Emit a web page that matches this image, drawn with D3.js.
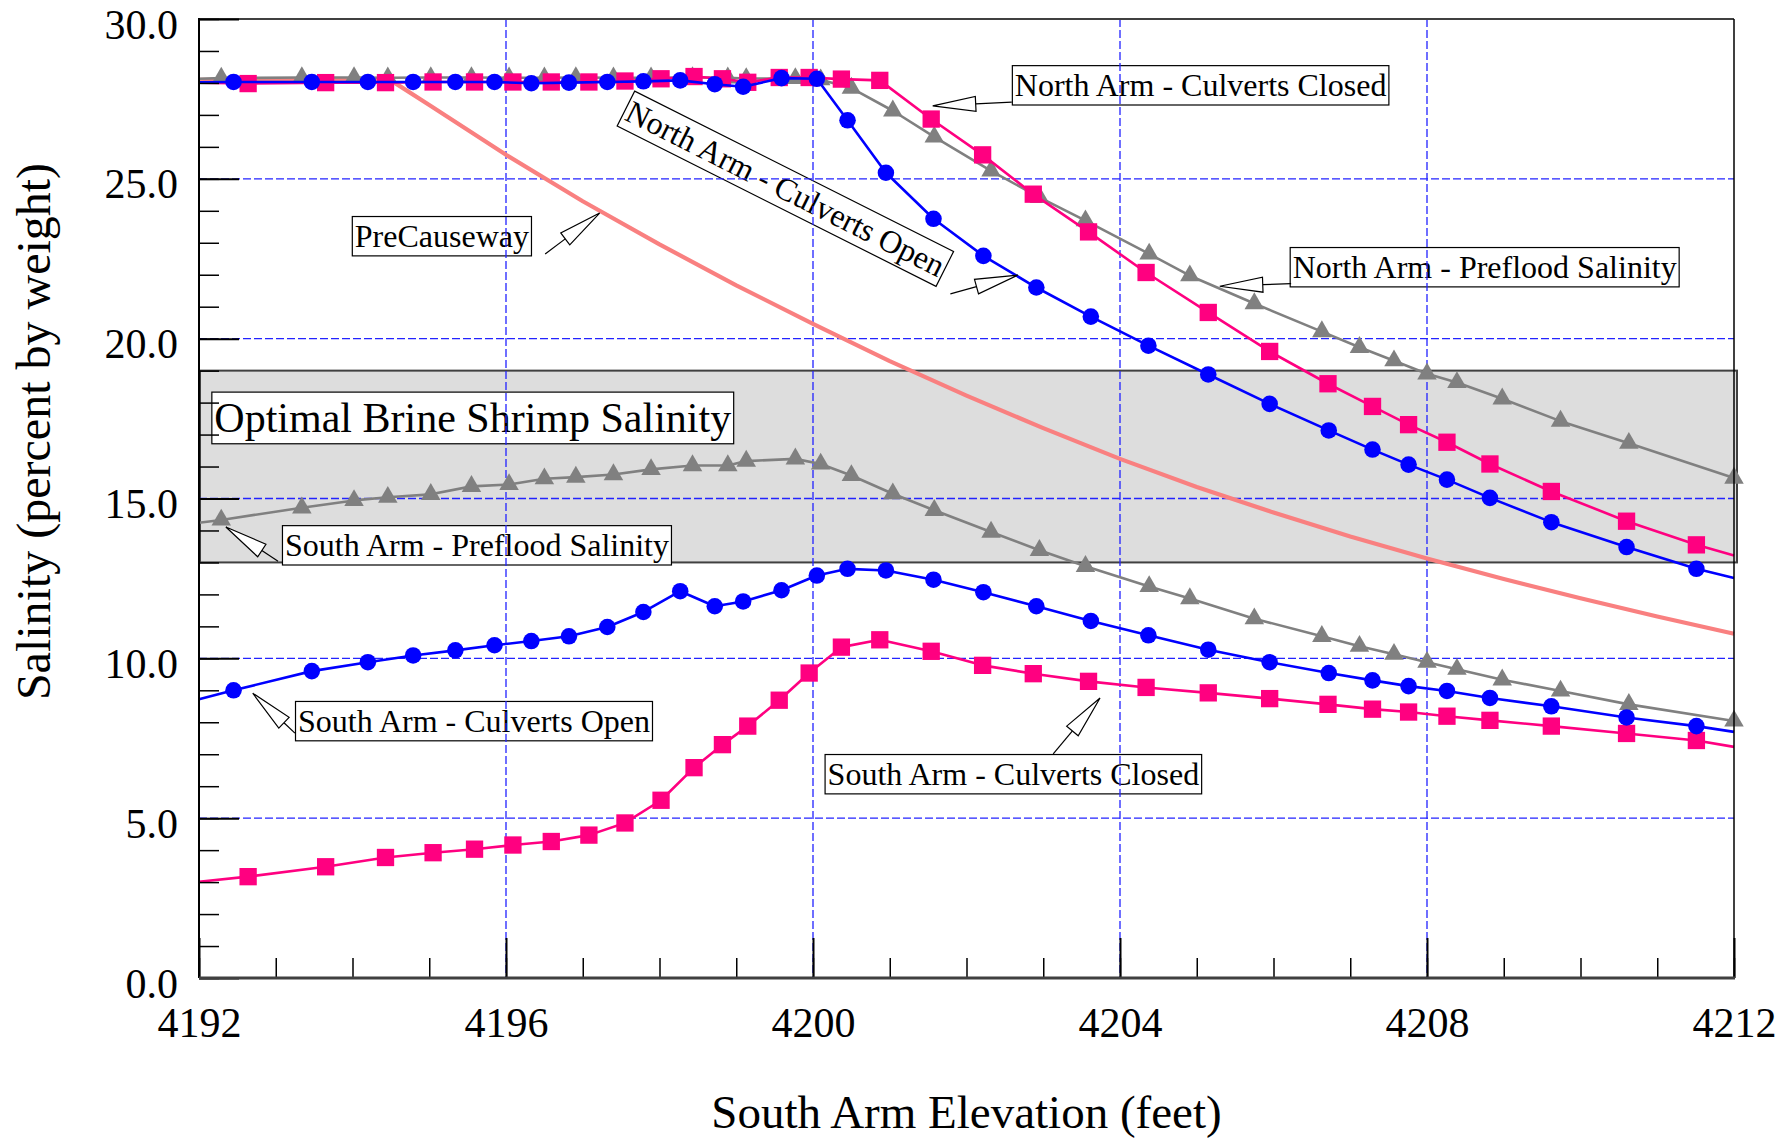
<!DOCTYPE html>
<html><head><meta charset="utf-8">
<script src="https://cdn.jsdelivr.net/npm/d3@7"></script>
<style>
html,body{margin:0;padding:0;background:#fff;}
svg{display:block;}
text{font-family:"Liberation Serif","Times New Roman",Times,serif;fill:#000;}
</style></head><body>
<svg id="chart" width="1781" height="1140"></svg>
<script>
// ---------------- DATA ----------------
const xTickValues = [4192, 4196, 4200, 4204, 4208, 4212];
const xTickLabels = ["4192", "4196", "4200", "4204", "4208", "4212"];
const yTickValues = [0, 5, 10, 15, 20, 25, 30];
const yTickLabels = ["0.0", "5.0", "10.0", "15.0", "20.0", "25.0", "30.0"];
const xTitle = "South Arm Elevation (feet)";
const yTitle = "Salinity (percent by weight)";
const optimalRange = [13, 19];

// Preflood (gray triangles) – shared elevations
const prefloodElev = [4192, 4192.29, 4193.34, 4194.02, 4194.46, 4195.02, 4195.55, 4196.04, 4196.50, 4196.91,
  4197.40, 4197.89, 4198.43, 4198.89, 4199.13, 4199.77, 4200.10, 4200.50, 4201.04, 4201.58,
  4202.32, 4202.95, 4203.55, 4204.38, 4204.91, 4205.75, 4206.63, 4207.12, 4207.57, 4208.00,
  4208.39, 4208.98, 4209.74, 4210.63, 4212.00];
const northPreflood = [28.13, 28.15, 28.17, 28.17, 28.16, 28.17, 28.17, 28.16, 28.16, 28.17,
  28.16, 28.16, 28.17, 28.16, 28.14, 28.14, 28.10, 27.84, 27.13, 26.31,
  25.25, 24.42, 23.69, 22.65, 21.97, 21.10, 20.22, 19.73, 19.31, 18.90,
  18.63, 18.12, 17.42, 16.73, 15.64];
const southPreflood = [14.24, 14.33, 14.71, 14.94, 15.04, 15.13, 15.38, 15.44, 15.62, 15.67,
  15.75, 15.91, 16.03, 16.03, 16.17, 16.24, 16.08, 15.72, 15.15, 14.63,
  13.95, 13.38, 12.88, 12.25, 11.87, 11.24, 10.69, 10.38, 10.13, 9.88,
  9.66, 9.33, 8.98, 8.56, 8.04];

// Culverts open (blue circles)
const openElev = [4192, 4192.45, 4193.47, 4194.20, 4194.79, 4195.34, 4195.85, 4196.33, 4196.82, 4197.32,
  4197.79, 4198.27, 4198.72, 4199.09, 4199.59, 4200.05, 4200.45, 4200.95, 4201.57, 4202.22,
  4202.91, 4203.62, 4204.37, 4205.15, 4205.95, 4206.72, 4207.29, 4207.76, 4208.26, 4208.82,
  4209.62, 4210.60, 4211.51, 4212];
const northOpen = [28.02, 28.03, 28.03, 28.03, 28.03, 28.03, 28.03, 27.99, 28.01, 28.03,
  28.05, 28.08, 27.96, 27.88, 28.15, 28.13, 26.83, 25.19, 23.75, 22.59,
  21.60, 20.69, 19.78, 18.88, 17.96, 17.13, 16.53, 16.06, 15.59, 15.02,
  14.26, 13.48, 12.80, 12.51];
const southOpen = [8.72, 9.00, 9.60, 9.88, 10.09, 10.25, 10.41, 10.54, 10.69, 10.98,
  11.45, 12.10, 11.63, 11.78, 12.13, 12.59, 12.80, 12.75, 12.46, 12.07,
  11.63, 11.17, 10.72, 10.27, 9.88, 9.54, 9.31, 9.13, 8.98, 8.76,
  8.50, 8.15, 7.88, 7.70];

// Culverts closed (pink squares)
const closedElev = [4192, 4192.64, 4193.65, 4194.43, 4195.05, 4195.59, 4196.09, 4196.59, 4197.08, 4197.55,
  4198.02, 4198.45, 4198.82, 4199.15, 4199.56, 4199.95, 4200.37, 4200.87, 4201.54, 4202.21,
  4202.87, 4203.59, 4204.34, 4205.15, 4205.95, 4206.71, 4207.29, 4207.76, 4208.26, 4208.82,
  4209.62, 4210.60, 4211.51, 4212];
const northClosed = [28.01, 27.98, 28.01, 28.01, 28.03, 28.03, 28.03, 28.03, 28.03, 28.06,
  28.13, 28.20, 28.13, 28.02, 28.17, 28.17, 28.12, 28.08, 26.87, 25.75,
  24.52, 23.34, 22.07, 20.82, 19.60, 18.59, 17.88, 17.31, 16.76, 16.08,
  15.22, 14.29, 13.55, 13.22];
const southClosed = [3.01, 3.17, 3.48, 3.77, 3.92, 4.03, 4.16, 4.27, 4.47, 4.85,
  5.56, 6.58, 7.30, 7.88, 8.69, 9.54, 10.35, 10.58, 10.22, 9.78,
  9.52, 9.28, 9.09, 8.92, 8.74, 8.56, 8.41, 8.32, 8.19, 8.06,
  7.88, 7.65, 7.43, 7.23];

// PreCauseway (salmon curve)
const preCausewayElev = [4192, 4193, 4194, 4194.5, 4195, 4196, 4197, 4198, 4199, 4200,
  4201, 4202, 4203, 4204, 4205, 4206, 4207, 4208, 4209, 4210, 4211, 4212];
const preCauseway = [28.10, 28.10, 28.10, 28.08, 27.31, 25.75, 24.30, 22.95, 21.67, 20.46,
  19.30, 18.22, 17.20, 16.24, 15.36, 14.56, 13.81, 13.12, 12.48, 11.88, 11.31, 10.77];

// Annotation texts
const labelTexts = ["PreCauseway", "North Arm - Culverts Closed", "North Arm - Preflood Salinity",
  "Optimal Brine Shrimp Salinity", "South Arm - Preflood Salinity", "South Arm - Culverts Open",
  "South Arm - Culverts Closed"];
const rotatedLabelText = "North Arm - Culverts Open";

// ---------------- LAYOUT ----------------
const plot = {left: 199, right: 1734, top: 19, bottom: 978};
const x = d3.scaleLinear().domain([4192, 4212]).range([plot.left, plot.right]);
const y = d3.scaleLinear().domain([0, 30]).range([plot.bottom, plot.top]);

// label anchors (text start x, baseline y) in data units, font sizes
const labelLayout = [
  {at: [4194.03, 22.87], size: 32},
  {at: [4202.63, 27.59], size: 32},
  {at: [4206.25, 21.90], size: 32},
  {at: [4192.20, 17.08], size: 42},
  {at: [4193.12, 13.20], size: 32},
  {at: [4193.29, 7.70], size: 32},
  {at: [4200.19, 6.04], size: 32}
];
const rotatedLayout = {center: [4199.64, 24.69], angle: 26.7, size: 32};
// callout arrows: tail (at label) -> tip
const arrowLayout = [
  {tail: [4196.51, 22.65], tip: [4197.22, 23.93]},
  {tail: [4202.59, 27.40], tip: [4201.56, 27.28]},
  {tail: [4206.23, 21.72], tip: [4205.30, 21.64]},
  {tail: [4193.03, 13.04], tip: [4192.35, 14.11]},
  {tail: [4193.25, 7.66], tip: [4192.70, 8.91]},
  {tail: [4203.13, 7.01], tip: [4203.74, 8.76]},
  {tail: [4201.79, 21.40], tip: [4202.67, 21.99]}
];

const svg = d3.select("#chart");
svg.append("rect").attr("width", 1781).attr("height", 1140).attr("fill", "#fff");

// Optimal salinity band
svg.append("rect")
  .attr("x", plot.left + 1).attr("width", plot.right - plot.left + 2)
  .attr("y", y(optimalRange[1])).attr("height", y(optimalRange[0]) - y(optimalRange[1]))
  .attr("fill", "#dddddd").attr("stroke", "#404040").attr("stroke-width", 2);

// Labels (under grid)
const gLabels = svg.append("g");
labelTexts.forEach((t, i) => {
  const L = labelLayout[i];
  const g = gLabels.append("g");
  const tx = x(L.at[0]), ty = y(L.at[1]);
  const rect = g.append("rect");
  const txt = g.append("text").attr("x", tx).attr("y", ty).style("font-size", L.size + "px").text(t);
  const w = txt.node().getComputedTextLength();
  rect.attr("x", tx - 2.5).attr("y", ty - 0.95 * L.size).attr("width", w + 5)
    .attr("height", 1.23 * L.size).attr("fill", "#fff").attr("stroke", "#000").attr("stroke-width", 1.2);
});
{
  const R = rotatedLayout;
  const g = gLabels.append("g").attr("transform", `translate(${x(R.center[0])},${y(R.center[1])}) rotate(${R.angle})`);
  const rect = g.append("rect");
  const txt = g.append("text").attr("x", 0).attr("y", 10.7).attr("text-anchor", "middle")
    .style("font-size", R.size + "px").text(rotatedLabelText);
  const w = txt.node().getComputedTextLength();
  rect.attr("x", -w / 2 - 2.5).attr("y", -19.5).attr("width", w + 5).attr("height", 39)
    .attr("fill", "#fff").attr("stroke", "#000").attr("stroke-width", 1.2);
}

// Grid
const gGrid = svg.append("g").attr("stroke", "#2323ff").attr("stroke-width", 1.3).attr("stroke-dasharray", "8,3");
[4196, 4200, 4204, 4208].forEach(v => gGrid.append("line").attr("x1", x(v)).attr("x2", x(v)).attr("y1", plot.top).attr("y2", plot.bottom));
[5, 10, 15, 20, 25].forEach(v => gGrid.append("line").attr("x1", plot.left).attr("x2", plot.right).attr("y1", y(v)).attr("y2", y(v)));

// Series
const seriesList = [
  {xs: preCausewayElev, ys: preCauseway, color: "#f98080", width: 4.2, marker: null},
  {xs: prefloodElev, ys: southPreflood, color: "#808080", width: 2.6, marker: "triangle", markEnd: true},
  {xs: prefloodElev, ys: northPreflood, color: "#808080", width: 2.6, marker: "triangle", markEnd: true},
  {xs: closedElev, ys: southClosed, color: "#ff0080", width: 2.6, marker: "square", markEnd: false},
  {xs: closedElev, ys: northClosed, color: "#ff0080", width: 2.6, marker: "square", markEnd: false},
  {xs: openElev, ys: southOpen, color: "#0000ff", width: 2.6, marker: "circle", markEnd: false},
  {xs: openElev, ys: northOpen, color: "#0000ff", width: 2.6, marker: "circle", markEnd: false}
];
const line = d3.line().x(d => x(d[0])).y(d => y(d[1]));
const gData = svg.append("g");
seriesList.forEach(s => {
  const pts = s.xs.map((v, i) => [v, s.ys[i]]);
  gData.append("path").attr("d", line(pts)).attr("fill", "none").attr("stroke", s.color)
    .attr("stroke-width", s.width).attr("stroke-linejoin", "round");
  if (!s.marker) return;
  const mpts = pts.filter(p => p[0] > 4192 && (p[0] < 4212 || s.markEnd));
  const sym = s.marker === "circle" ? d3.symbol(d3.symbolCircle, 215)
    : s.marker === "square" ? d3.symbol(d3.symbolSquare, 300)
    : d3.symbol(d3.symbolTriangle, 165);
  gData.append("g").selectAll("path").data(mpts).join("path")
    .attr("transform", p => `translate(${x(p[0])},${y(p[1])})`)
    .attr("d", sym()).attr("fill", s.color);
});

// Callout arrows
const gArrows = svg.append("g");
arrowLayout.forEach(a => {
  const tx = x(a.tail[0]), ty = y(a.tail[1]), px = x(a.tip[0]), py = y(a.tip[1]);
  const dx = px - tx, dy = py - ty, len = Math.hypot(dx, dy), ux = dx / len, uy = dy / len;
  const Lh = 43, hw = 7.5;
  const bx = px - ux * Lh, by = py - uy * Lh;
  gArrows.append("line").attr("x1", tx).attr("y1", ty).attr("x2", bx).attr("y2", by)
    .attr("stroke", "#000").attr("stroke-width", 1.2);
  gArrows.append("path")
    .attr("d", `M${px},${py}L${bx - uy * hw},${by + ux * hw}L${bx + uy * hw},${by - ux * hw}Z`)
    .attr("fill", "#fff").attr("stroke", "#000").attr("stroke-width", 1.2);
});

// Axes & frame
svg.append("line").attr("x1", plot.left).attr("x2", plot.right).attr("y1", plot.top).attr("y2", plot.top)
  .attr("stroke", "#404040").attr("stroke-width", 2);
svg.append("line").attr("x1", plot.right).attr("x2", plot.right).attr("y1", plot.top).attr("y2", plot.bottom)
  .attr("stroke", "#000").attr("stroke-width", 1.5);

const xMinor = svg.append("g").attr("transform", `translate(0,${plot.bottom})`)
  .call(d3.axisBottom(x).tickValues(d3.range(4192, 4213, 1)).tickSize(-20).tickFormat(""));
const xMajor = svg.append("g").attr("transform", `translate(0,${plot.bottom})`)
  .call(d3.axisBottom(x).tickValues(xTickValues).tickSize(-40).tickFormat((d, i) => xTickLabels[i]));
const yMinor = svg.append("g").attr("transform", `translate(${plot.left},0)`)
  .call(d3.axisLeft(y).tickValues(d3.range(0, 31, 1)).tickSize(-20).tickFormat(""));
const yMajor = svg.append("g").attr("transform", `translate(${plot.left},0)`)
  .call(d3.axisLeft(y).tickValues(yTickValues).tickSize(-40).tickFormat((d, i) => yTickLabels[i]));
[xMinor, xMajor, yMinor, yMajor].forEach(g => {
  g.select(".domain").remove();
  g.selectAll(".tick line").attr("stroke", "#000").attr("stroke-width", 1.5);
});
[xMajor, yMajor].forEach(g => g.selectAll(".tick line").attr("stroke-width", 2));
xMajor.selectAll("text").attr("y", 59).attr("dy", null).style("font-size", "42px")
  .attr("font-family", null).attr("fill", "#000");
yMajor.selectAll("text").attr("x", -21).attr("y", 19).attr("dy", null).style("font-size", "42px")
  .attr("font-family", null).attr("fill", "#000");

svg.append("line").attr("x1", plot.left).attr("x2", plot.left).attr("y1", plot.top - 1).attr("y2", plot.bottom)
  .attr("stroke", "#000").attr("stroke-width", 2);
svg.append("line").attr("x1", plot.left).attr("x2", plot.right + 1).attr("y1", plot.bottom).attr("y2", plot.bottom)
  .attr("stroke", "#404040").attr("stroke-width", 3);

// Titles
svg.append("text").attr("x", (plot.left + plot.right) / 2).attr("y", 1128).attr("text-anchor", "middle")
  .style("font-size", "47px").text(xTitle);
svg.append("text").attr("transform", "translate(50,431.5) rotate(-90)").attr("text-anchor", "middle")
  .style("font-size", "48px").text(yTitle);
</script>
</body></html>
